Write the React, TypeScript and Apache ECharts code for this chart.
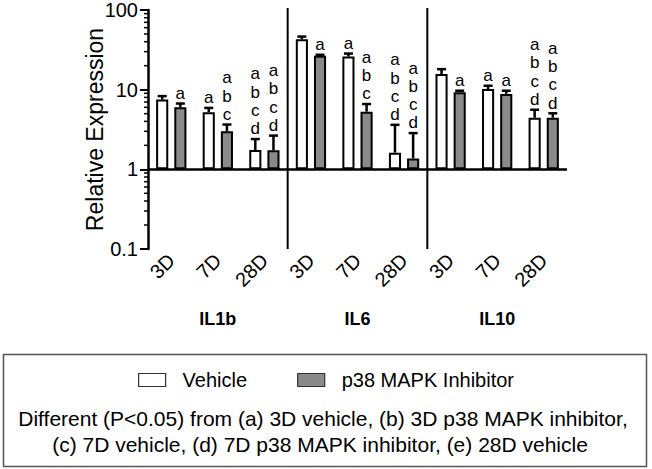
import React, { useEffect, useRef } from "react";
import * as echarts from "echarts";

const categories = ["3D", "7D", "28D", "3D", "7D", "28D", "3D", "7D", "28D"];
const groups = ["IL1b", "IL6", "IL10"];
const groupStarts = [3, 6];

const vehicleMean = [7.5, 5.2, 1.75, 43, 26, 1.62, 15.7, 10.2, 4.45];
const vehicleErr = [0.8, 0.7, 0.65, 3.4, 2.4, 2.0, 2.4, 1.0, 1.15];
const inhibMean = [6.0, 3.0, 1.73, 26.6, 5.3, 1.37, 9.25, 8.85, 4.45];
const inhibErr = [0.7, 0.65, 0.92, 0.8, 1.3, 1.48, 0.45, 0.85, 0.6];

const vehicleLetters = ["", "a", "abcd", "", "a", "abcd", "", "a", "abcd"];
const inhibLetters = ["a", "abc", "abcd", "a", "abc", "abcd", "a", "a", "abcd"];

const minorTicks = [
  0.2, 0.3, 0.4, 0.5, 0.6, 0.7, 0.8, 0.9,
  2, 3, 4, 5, 6, 7, 8, 9,
  20, 30, 40, 50, 60, 70, 80, 90,
];

const FONT = "Liberation Sans";
const BAR_FRAC = 0.26;

function errorSeries(means: number[], errs: number[], letters: string[], side: number) {
  return {
    type: "custom",
    silent: true,
    z: 5,
    data: means.map((m, i) => [i, m, m + errs[i]]),
    renderItem: (params: any, api: any) => {
      const band = api.size([1, 0])[0];
      const w = band * BAR_FRAC;
      const off = side * 0.75 * w;
      const idx = api.value(0);
      const p0 = api.coord([idx, api.value(1)]);
      const p1 = api.coord([idx, api.value(2)]);
      const x = p0[0] + off;
      const txt = letters[params.dataIndex].split("").join("\n");
      const children: any[] = [
        { type: "line", shape: { x1: x, y1: p0[1], x2: x, y2: p1[1] }, style: { stroke: "#000", lineWidth: 2.5 } },
        { type: "line", shape: { x1: x - 4.5, y1: p1[1], x2: x + 4.5, y2: p1[1] }, style: { stroke: "#000", lineWidth: 2.5 } },
      ];
      if (txt) {
        children.push({
          type: "text",
          style: {
            text: txt,
            x,
            y: p1[1] - 1,
            fill: "#000",
            fontSize: 17,
            fontFamily: FONT,
            lineHeight: 18.3,
            align: "center",
            verticalAlign: "bottom",
          },
        });
      }
      return { type: "group", children };
    },
  };
}

export default function App() {
  const ref = useRef<HTMLDivElement>(null);
  useEffect(() => {
    document.body.style.margin = "0";
    const chart = echarts.init(ref.current!, null, { renderer: "svg" });
    const option: any = {
      animation: false,
      backgroundColor: "#fff",
      textStyle: { fontFamily: FONT, color: "#000" },
      grid: { left: 148, right: 85, top: 10, bottom: 220 },
      legend: {
        data: ["Vehicle", "p38 MAPK Inhibitor"],
        top: 365,
        left: "center",
        icon: "rect",
        itemWidth: 27,
        itemHeight: 13,
        itemGap: 50,
        itemStyle: { borderColor: "#333", borderWidth: 1.2 },
        textStyle: { fontSize: 20, fontFamily: FONT, color: "#000", padding: [0, 0, 0, 12] },
      },
      xAxis: [
        {
          type: "category",
          data: categories,
          axisLine: { show: false },
          axisTick: { show: false },
          axisLabel: { interval: 0, rotate: 45, fontSize: 20, color: "#000", margin: 8, fontFamily: FONT },
        },
        {
          type: "category",
          data: groups,
          position: "bottom",
          axisLine: { show: false },
          axisTick: { show: false },
          axisLabel: { interval: 0, fontSize: 18, fontWeight: "bold", color: "#000", margin: 61, fontFamily: FONT },
        },
      ],
      yAxis: {
        type: "log",
        logBase: 10,
        min: 0.1,
        max: 100,
        name: "Relative Expression",
        nameLocation: "middle",
        nameGap: 42,
        nameMoveOverlap: false,
        nameTextStyle: { fontSize: 23, color: "#000", fontFamily: FONT },
        axisLine: { show: true, lineStyle: { color: "#000", width: 2.5 } },
        axisTick: { show: true, length: 8, lineStyle: { color: "#000", width: 2 } },
        axisLabel: {
          fontSize: 20,
          color: "#000",
          margin: 10,
          fontFamily: FONT,
          formatter: (v: number) => String(parseFloat(Number(v).toPrecision(6))),
        },
        splitLine: { show: false },
      },
      series: [
        {
          name: "Vehicle",
          type: "bar",
          data: vehicleMean,
          barWidth: "26%",
          barGap: "50%",
          itemStyle: { color: "#fff", borderColor: "#000", borderWidth: 2 },
          markLine: {
            silent: true,
            symbol: ["none", "none"],
            label: { show: false },
            lineStyle: { color: "#000", width: 2.5, type: "solid" },
            data: [{ yAxis: 1 }],
          },
        },
        {
          name: "p38 MAPK Inhibitor",
          type: "bar",
          data: inhibMean,
          barWidth: "26%",
          barGap: "50%",
          itemStyle: { color: "#8a8a8a", borderColor: "#000", borderWidth: 2 },
        },
        errorSeries(vehicleMean, vehicleErr, vehicleLetters, -1),
        errorSeries(inhibMean, inhibErr, inhibLetters, 1),
        {
          type: "custom",
          silent: true,
          data: minorTicks.map((v) => [0, v]),
          renderItem: (params: any, api: any) => {
            const y = api.coord([0, api.value(1)])[1];
            const x0 = params.coordSys.x;
            return { type: "line", shape: { x1: x0 - 4, y1: y, x2: x0, y2: y }, style: { stroke: "#000", lineWidth: 1.5 } };
          },
        },
        {
          type: "custom",
          silent: true,
          data: groupStarts.map((g) => [g, 1]),
          renderItem: (params: any, api: any) => {
            const band = api.size([1, 0])[0];
            const x = api.coord([api.value(0), 1])[0] - band / 2;
            const cs = params.coordSys;
            return { type: "line", shape: { x1: x, y1: cs.y - 2, x2: x, y2: cs.y + cs.height }, style: { stroke: "#000", lineWidth: 2 } };
          },
        },
      ],
      graphic: [
        {
          type: "rect",
          shape: { x: 3.5, y: 354.5, width: 643, height: 112 },
          style: { fill: "none", stroke: "#555", lineWidth: 1.5 },
        },
        {
          type: "text",
          style: {
            text: "Different (P<0.05) from (a) 3D vehicle, (b) 3D p38 MAPK inhibitor,",
            x: 323,
            y: 418,
            fontSize: 21,
            fontFamily: FONT,
            fill: "#000",
            align: "center",
            verticalAlign: "middle",
          },
        },
        {
          type: "text",
          style: {
            text: "(c) 7D vehicle, (d) 7D p38 MAPK inhibitor, (e) 28D vehicle",
            x: 320,
            y: 444,
            fontSize: 21,
            fontFamily: FONT,
            fill: "#000",
            align: "center",
            verticalAlign: "middle",
          },
        },
      ],
    };
    chart.setOption(option);
    return () => chart.dispose();
  }, []);
  return <div ref={ref} style={{ position: "absolute", left: 0, top: 0, width: 652, height: 469 }} />;
}
